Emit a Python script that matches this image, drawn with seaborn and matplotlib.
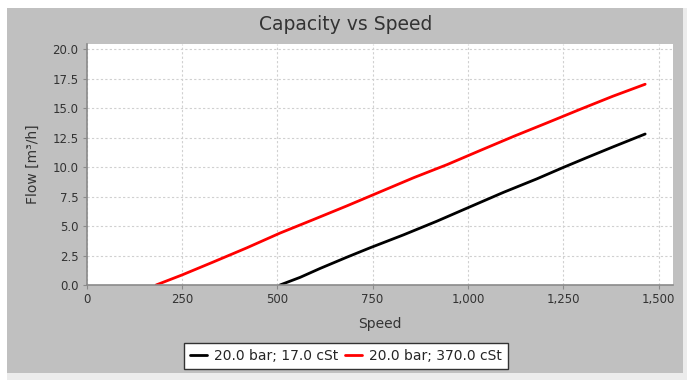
import numpy as np
import pandas as pd
import matplotlib
matplotlib.use("Agg")
import matplotlib.pyplot as plt
from matplotlib.patches import Rectangle
from matplotlib.ticker import FuncFormatter, MultipleLocator
import seaborn as sns

# values
speed_17 = [507, 560, 612, 682, 743, 831, 918, 1000, 1093, 1181, 1249, 1312, 1380, 1465]
flow_17 = [0.0, 0.65, 1.4, 2.35, 3.15, 4.25, 5.4, 6.55, 7.85, 9.0, 9.95, 10.8, 11.7, 12.8]

speed_370 = [182, 250, 332, 420, 507, 595, 682, 770, 858, 945, 1032, 1120, 1208, 1295, 1380, 1465]
flow_370 = [0.0, 0.85, 1.95, 3.15, 4.4, 5.55, 6.7, 7.9, 9.1, 10.2, 11.4, 12.6, 13.75, 14.9, 16.0, 17.02]

series_names = ["20.0 bar; 17.0 cSt", "20.0 bar; 370.0 cSt"]
series_colors = ["#000000", "#ff0000"]

title = "Capacity vs Speed"
x_label = "Speed"
y_label = "Flow [m³/h]"


def build_frame():
    """Long-format table for seaborn."""
    parts = []
    for name, xs, ys in [(series_names[0], speed_17, flow_17),
                         (series_names[1], speed_370, flow_370)]:
        parts.append(pd.DataFrame({"speed": xs, "flow": ys, "series": name}))
    return pd.concat(parts, ignore_index=True)


def main():
    sns.set_style("white")
    plt.rcParams["font.family"] = ["DejaVu Sans"]

    W, H = 694, 386
    fig = plt.figure(figsize=(W / 100, H / 100), dpi=100, facecolor="white")

    # chart panel background (light shadow + gray panel)
    fig.patches.append(Rectangle((7 / W, 1 - 380 / H), 680 / W, 372 / H,
                                 transform=fig.transFigure, facecolor="#ececec",
                                 edgecolor="none", zorder=-2))
    fig.patches.append(Rectangle((7 / W, 1 - 373 / H), 676 / W, 365 / H,
                                 transform=fig.transFigure, facecolor="#c0c0c0",
                                 edgecolor="none", zorder=-1))

    ax = fig.add_axes([86.7 / W, 1 - 285 / H, (673 - 86.7) / W, (285 - 44) / H])
    ax.set_facecolor("white")

    df = build_frame()
    sns.lineplot(data=df, x="speed", y="flow", hue="series", sort=False,
                 estimator=None, palette=dict(zip(series_names, series_colors)),
                 linewidth=2, ax=ax, legend=False)

    ax.set_xlim(0, 1538)
    ax.set_ylim(0, 20.43)
    ax.xaxis.set_major_locator(MultipleLocator(250))
    ax.yaxis.set_major_locator(MultipleLocator(2.5))
    ax.xaxis.set_major_formatter(FuncFormatter(lambda v, p: f"{v:,.0f}"))
    ax.yaxis.set_major_formatter(FuncFormatter(lambda v, p: f"{v:.1f}"))

    ax.grid(True, color="#d0d0d0", linestyle=(0, (2, 2)), linewidth=0.8)
    for side in ["top", "right"]:
        ax.spines[side].set_visible(False)
    for side in ["left", "bottom"]:
        ax.spines[side].set_color("#8a8a8a")
        ax.spines[side].set_linewidth(1.2)

    ax.tick_params(axis="both", direction="out", length=3, width=0.8,
                   color="#8a8a8a", labelsize=8.5, labelcolor="#333333", pad=3,
                   bottom=True, left=True)

    ax.set_xlabel(x_label, fontsize=10, color="#333333", labelpad=8)
    ax.set_ylabel(y_label, fontsize=10, color="#333333", labelpad=9)
    fig.text(346 / W, 1 - 24 / H, title, fontsize=13.5, color="#333333",
             ha="center", va="center")

    handles = [plt.Line2D([], [], color=c, linewidth=2) for c in series_colors]
    leg = fig.legend(handles, series_names, loc="center",
                     bbox_to_anchor=(346 / W, 1 - 356 / H), ncol=2,
                     fontsize=10, frameon=True, fancybox=False,
                     handlelength=1.2, handletextpad=0.5, columnspacing=0.5,
                     borderpad=0.45, borderaxespad=0)
    leg.get_frame().set_edgecolor("#333333")
    leg.get_frame().set_linewidth(1.0)
    leg.get_frame().set_facecolor("white")
    leg.get_frame().set_alpha(1)

    fig.savefig("out.png", dpi=100, facecolor="white")


if __name__ == "__main__":
    main()
